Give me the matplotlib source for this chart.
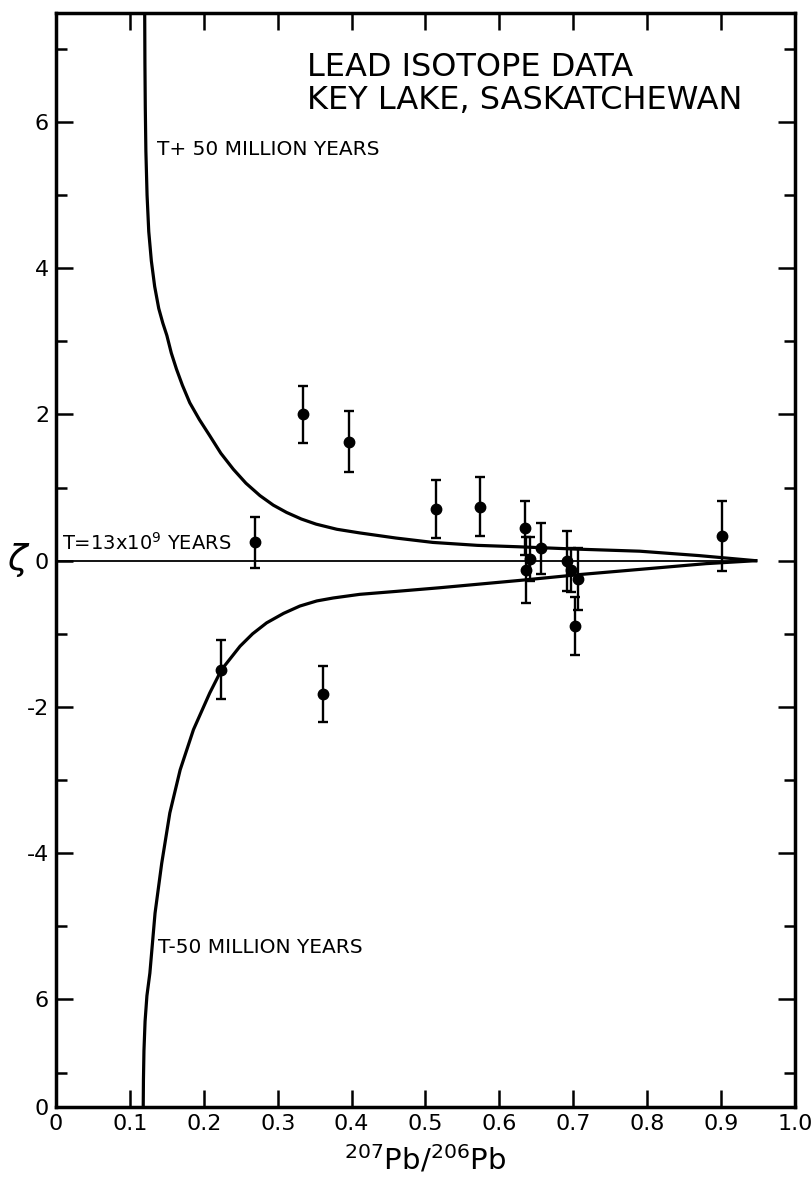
import numpy as np
import matplotlib.pyplot as plt
from matplotlib.ticker import FixedLocator

plt.rcParams['font.family'] = ['DejaVu Sans']

# upper envelope, T + 50 million years
up_x = [0.1200, 0.1203, 0.1208, 0.1216, 0.1232, 0.1255, 0.1290, 0.1335, 0.1390,
        0.1445, 0.150, 0.156, 0.163, 0.171, 0.181, 0.194, 0.208, 0.223, 0.240,
        0.257, 0.276, 0.294, 0.312, 0.332, 0.352, 0.380, 0.411, 0.460, 0.510,
        0.570, 0.627, 0.700, 0.790, 0.870, 0.947]
up_y = [7.49, 6.80, 6.20, 5.60, 5.00, 4.50, 4.10, 3.75, 3.45,
        3.25, 3.08, 2.84, 2.62, 2.40, 2.16, 1.93, 1.71, 1.47, 1.25,
        1.06, 0.89, 0.76, 0.66, 0.57, 0.50, 0.43, 0.38, 0.31, 0.25,
        0.21, 0.19, 0.16, 0.13, 0.07, 0.00]

# lower envelope, T - 50 million years
lo_x = [0.1180, 0.1183, 0.1190, 0.1205, 0.1230, 0.127, 0.134, 0.143, 0.154, 0.168,
        0.186, 0.208, 0.224, 0.249, 0.266, 0.285, 0.308, 0.330, 0.353, 0.375,
        0.411, 0.460, 0.519, 0.627, 0.708, 0.800, 0.880, 0.947]
lo_y = [-7.47, -7.10, -6.70, -6.30, -5.95, -5.64, -4.82, -4.14, -3.45, -2.86,
        -2.31, -1.81, -1.49, -1.17, -1.00, -0.85, -0.72, -0.62, -0.55, -0.51,
        -0.46, -0.42, -0.37, -0.27, -0.19, -0.11, -0.04, 0.00]

# T = 1.3e9 years line
zero_x = [0.0, 0.947]
zero_y = [0.0, 0.0]

# measured points
pb_ratio = [0.223, 0.269, 0.334, 0.361, 0.396, 0.514, 0.574, 0.635, 0.636,
            0.642, 0.657, 0.692, 0.697, 0.706, 0.703, 0.901]
zeta = [-1.49, 0.25, 2.00, -1.82, 1.63, 0.71, 0.74, 0.45, -0.13,
        0.02, 0.17, 0.00, -0.13, -0.25, -0.89, 0.34]
zeta_err = [0.40, 0.35, 0.39, 0.38, 0.42, 0.40, 0.40, 0.37, 0.45,
            0.30, 0.35, 0.41, 0.30, 0.42, 0.40, 0.48]

y_major = [6, 4, 2, 0, -2, -4, -6, -7.47]
y_labels = ['6', '4', '2', '0', '-2', '-4', '6', '0']
y_minor = [7, 5, 3, 1, -1, -3, -5, -7]
x_major = [0.0, 0.1, 0.2, 0.3, 0.4, 0.5, 0.6, 0.7, 0.8, 0.9, 1.0]
x_labels = ['0', '0.1', '0.2', '0.3', '0.4', '0.5', '0.6', '0.7', '0.8', '0.9', '1.0']

fig = plt.figure(figsize=(8.12, 11.83), dpi=100)
ax = fig.add_axes([0.069, 0.0643, 0.910, 0.9247])

ax.plot(up_x, up_y, color='black', lw=2.3)
ax.plot(lo_x, lo_y, color='black', lw=2.3)
ax.plot(zero_x, zero_y, color='black', lw=1.3)
ax.errorbar(pb_ratio, zeta, yerr=zeta_err, fmt='o', color='black', ms=7.5,
            elinewidth=1.7, capsize=3.5, capthick=1.7)

ax.set_xlim(0, 1.0)
ax.set_ylim(-7.47, 7.49)
ax.set_xticks(x_major)
ax.set_xticklabels(x_labels)
ax.set_yticks(y_major)
ax.set_yticklabels(y_labels)
ax.yaxis.set_minor_locator(FixedLocator(y_minor))
ax.tick_params(which='both', direction='in', top=True, right=True,
               labelsize=16, width=1.8)
ax.tick_params(which='major', length=12, pad=5)
ax.tick_params(which='minor', length=8)
for s in ax.spines.values():
    s.set_linewidth(2.5)

ax.set_xlabel('$^{207}$Pb/$^{206}$Pb', fontsize=21, labelpad=7)
ax.set_ylabel(r'$\zeta$', fontsize=26, rotation=0, labelpad=2, va='center')
ax.yaxis.set_label_coords(-0.05, 0.5)

ax.text(0.34, 6.52, 'LEAD ISOTOPE DATA\nKEY LAKE, SASKATCHEWAN',
        fontsize=23, ha='left', va='center', linespacing=1.05)
ax.text(0.136, 5.62, 'T+ 50 MILLION YEARS', fontsize=14.5, ha='left', va='center')
ax.text(0.138, -5.29, 'T-50 MILLION YEARS', fontsize=14.5, ha='left', va='center')
ax.text(0.008, 0.24, 'T=13x10$^9$ YEARS', fontsize=14, ha='left', va='center')

fig.savefig('out.png', dpi=100)
